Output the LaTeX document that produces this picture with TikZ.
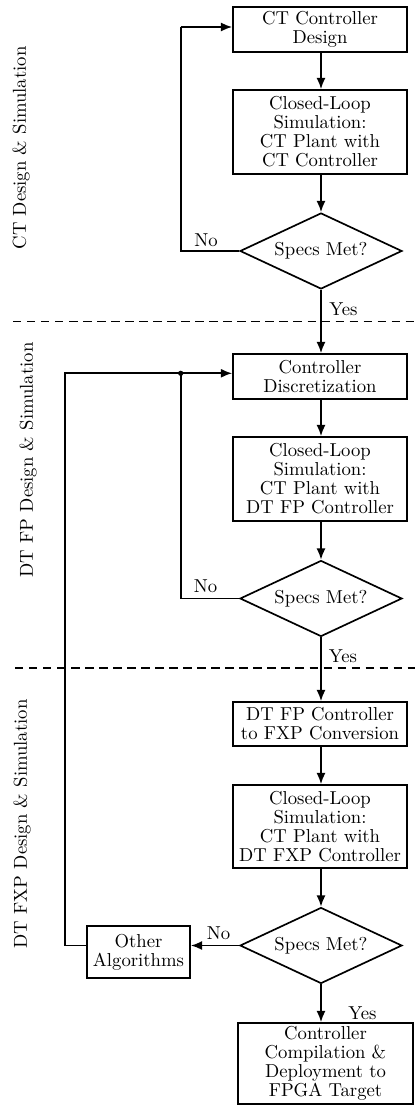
\documentclass[tikz,border=0pt]{standalone}
\usetikzlibrary{shapes.geometric,arrows.meta}
\begin{document}
\begin{tikzpicture}[x=0.5348pt,y=-0.5348pt,
  txt/.style={font=\fontsize{10}{10.2}\selectfont},
  box/.style={txt, draw, line width=0.9pt, align=center, inner sep=1pt},
  dec/.style={txt, draw, diamond, line width=0.9pt, inner sep=0pt, aspect=2.13,
    minimum width={162*0.5348pt}, minimum height={76*0.5348pt}},
  arr/.style={line width=0.9pt, -{Latex[length=6pt,width=4.8pt]}},
  ln/.style={line width=0.9pt},
  sep/.style={line width=0.9pt, dash pattern=on 4.5pt off 3pt},
  side/.style={txt, rotate=90}]
\fill[white] (0,0) rectangle (415,1106);
\useasboundingbox (0,0) rectangle (415,1106);

% main column
\node[box, minimum width={174*0.5348pt}, minimum height={45*0.5348pt}] (b1) at (320,29.5) {CT Controller\\Design};
\node[box, minimum width={174*0.5348pt}, minimum height={84*0.5348pt}] (b2) at (320,132) {Closed-Loop\\Simulation:\\CT Plant with\\CT Controller};
\node[dec] (d1) at (321,251) {Specs Met?};

\node[box, minimum width={174*0.5348pt}, minimum height={45*0.5348pt}] (b3) at (320,376.5) {Controller\\Discretization};
\node[box, minimum width={174*0.5348pt}, minimum height={84*0.5348pt}] (b4) at (320,479) {Closed-Loop\\Simulation:\\CT Plant with\\DT FP Controller};
\node[dec] (d2) at (321,598.5) {Specs Met?};

\node[box, minimum width={174*0.5348pt}, minimum height={44*0.5348pt}] (b5) at (320,724) {DT FP Controller\\to FXP Conversion};
\node[box, minimum width={174*0.5348pt}, minimum height={83*0.5348pt}] (b6) at (320,826.5) {Closed-Loop\\Simulation:\\CT Plant with\\DT FXP Controller};
\node[dec] (d3) at (321,945.5) {Specs Met?};
\node[box, minimum width={175*0.5348pt}, minimum height={81*0.5348pt}] (fb) at (325.5,1063.5) {Controller\\Compilation \&\\Deployment to\\FPGA Target};
\node[box, minimum width={103*0.5348pt}, minimum height={52*0.5348pt}] (oa) at (138.5,952) {Other\\Algorithms};

% separators
\coordinate (s1l) at (13,321.5); \coordinate (s1r) at (415,321.5);
\coordinate (s2l) at (15,668); \coordinate (s2r) at (415,668);
\draw[sep] (s1l) -- (s1r);
\draw[sep] (s2l) -- (s2r);

% side labels
\node[side] (t1) at (21,148) {CT Design \& Simulation};
\node[side] (t2) at (28,460) {DT FP Design \& Simulation};
\node[side] (t3) at (22,824) {DT FXP Design \& Simulation};

% main arrows (common column)
\coordinate (col) at (321,0);
\draw[arr] (b1.south -| col) -- (b2.north -| col);
\draw[arr] (b2.south -| col) -- (d1.north);
\draw[arr] (d1.south) -- (d1.south |- b3.north);
\draw[arr] (b3.south -| col) -- (b4.north -| col);
\draw[arr] (b4.south -| col) -- (d2.north);
\draw[arr] (d2.south) -- (d2.south |- b5.north);
\draw[arr] (b5.south -| col) -- (b6.north -| col);
\draw[arr] (b6.south -| col) -- (d3.north);
\draw[arr] (d3.south) -- (d3.south |- fb.north);

% loop 1
\coordinate (l1) at (180.7,27);
\draw[ln] (d1.west) -| (l1);
\draw[arr] (l1) -- (l1 -| b1.west);

% loop 2
\coordinate (j) at (180.7,373.3);
\coordinate (o) at (65,373.3);
\draw[ln] (d2.west) -| (j);
\draw[arr] (j) -- (j -| b3.west);
\fill (j) circle[radius=1.4pt];

% loop 3
\draw[arr] (d3.west) -- (d3.west -| oa.east);
\draw[ln] (d3.west -| oa.west) -| (o) -- (j);

% labels
\node[txt] (n1) at (206,240) {No};
\node[txt] (y1) at (343.5,309) {Yes};
\node[txt] (n2) at (205.5,586) {No};
\node[txt] (y2) at (343,656) {Yes};
\node[txt] (n3) at (218.5,933) {No};
\node[txt] (y3) at (362.5,1013) {Yes};
\end{tikzpicture}
\end{document}
